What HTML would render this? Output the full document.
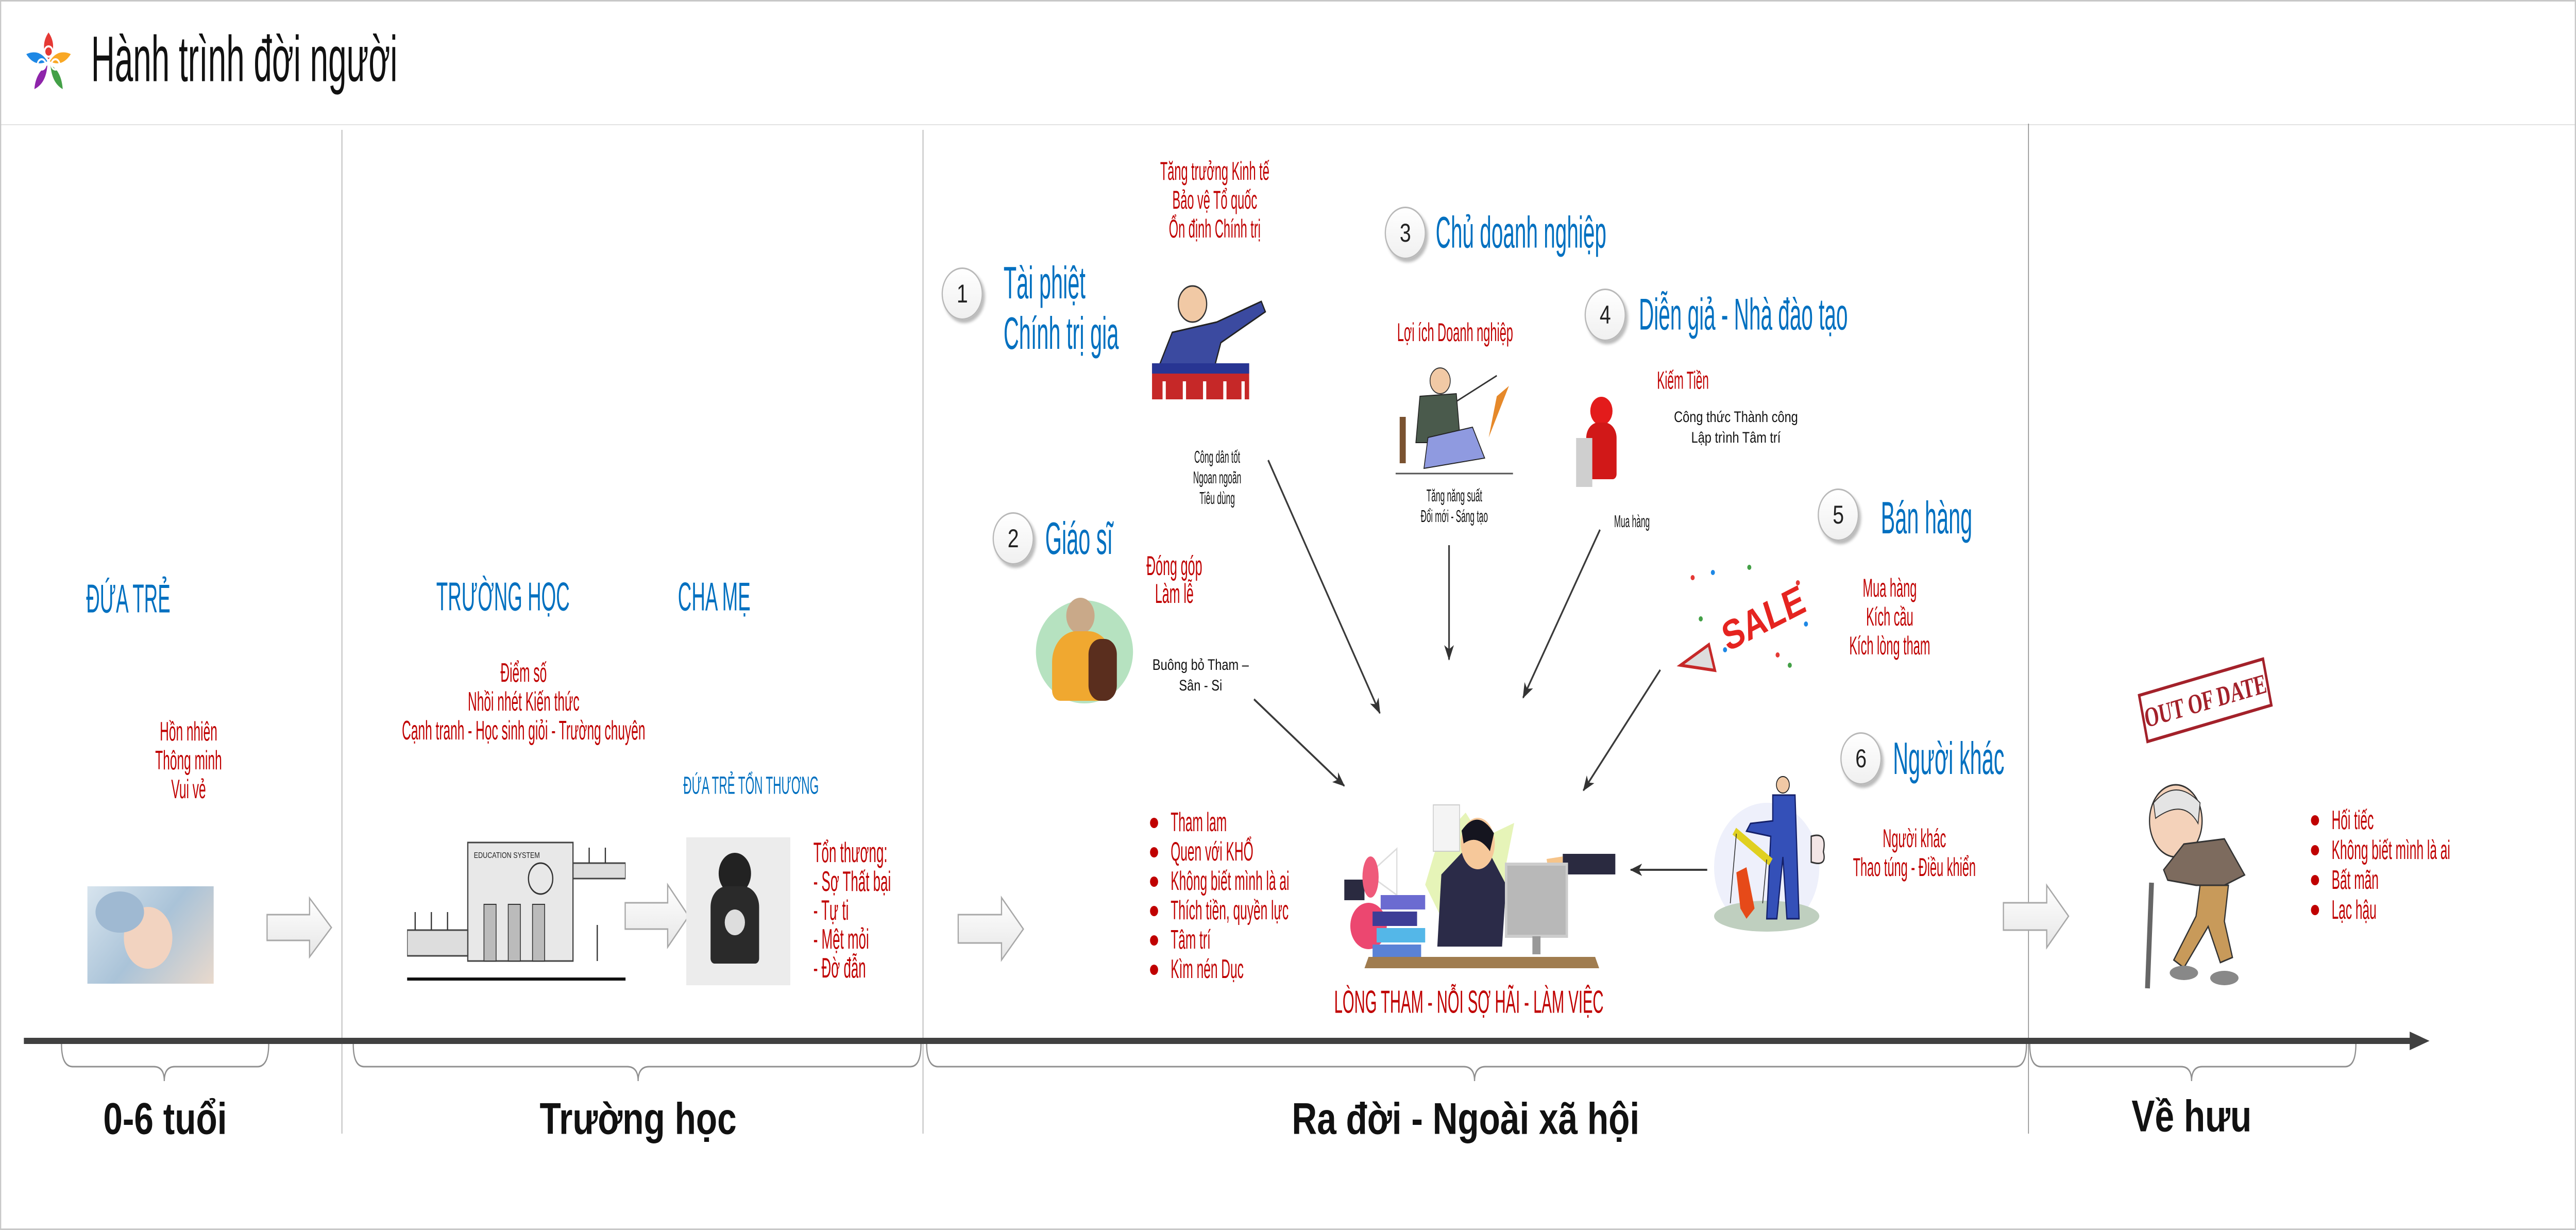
<!DOCTYPE html>
<html><head><meta charset="utf-8">
<style>
html,body{margin:0;padding:0;background:#fff;width:100%;height:100%;overflow:hidden}
#p{position:absolute;left:0;top:0;width:6366px;height:2387px;overflow:hidden;background:#fff;transform-origin:0 0}
#frame{position:absolute;left:0;top:0;width:6366px;height:2387px;box-sizing:border-box;border:3px solid #c8c8c8}
.t{position:absolute;white-space:nowrap;font-family:"Liberation Sans",sans-serif}
.c{transform:translate(-50%,-50%);text-align:center}
.l{transform:translate(0,-50%);text-align:left}
.c.n{transform:translate(-50%,-50%) scaleX(.6)}
.l.n{transform-origin:0 50%;transform:translate(0,-50%) scaleX(.6)}
.tl.n{transform-origin:0 0;transform:scaleX(.6)}
.red{color:#c00000}
.blue{color:#0070c0}
.blk{color:#111}
.bold{font-family:"Liberation Sans",sans-serif;font-weight:bold;color:#111}
.num{position:absolute;width:96px;height:96px;border-radius:50%;border:3px solid #b8b8b8;background:linear-gradient(#fff,#f0f0f0);box-shadow:5px 6px 6px #bbb;transform:translate(-50%,-50%);font:50px "Liberation Sans",sans-serif;color:#222;text-align:center;line-height:96px}
ul.b{position:absolute;margin:0;padding:0;list-style:none;font-family:"Liberation Sans",sans-serif;color:#c00000}
ul.b li{position:relative;padding-left:51px;white-space:nowrap}
ul.b li span{display:inline-block;transform-origin:0 50%;transform:scaleX(.6)}
ul.b li:before{content:"";position:absolute;left:0;top:50%;width:20px;height:20px;margin-top:-10px;border-radius:50%;background:#c00000}
</style></head><body>
<div id="p">
<div style="position:absolute;left:0;top:0;width:6366px;height:243px;box-sizing:border-box;border-bottom:2px solid #e2e2e2"></div>
<svg style="position:absolute;left:55px;top:55px" width="130" height="130" viewBox="0 0 130 130">
<path d="M65 8 C80 25 80 45 65 60 C50 45 50 25 65 8Z" fill="#e53935"/>
<path d="M120 50 C105 68 88 72 68 64 C80 48 98 42 120 50Z" fill="#f9a825"/>
<path d="M100 118 C82 110 72 94 70 72 C88 78 98 96 100 118Z" fill="#43a047"/>
<path d="M30 118 C32 96 44 80 62 72 C60 94 50 110 30 118Z" fill="#8e24aa"/>
<path d="M10 50 C32 42 50 48 62 64 C42 72 24 68 10 50Z" fill="#1e88e5"/>
<circle cx="48" cy="70" r="10" fill="none" stroke="#fff" stroke-width="4"/><circle cx="82" cy="70" r="10" fill="none" stroke="#fff" stroke-width="4"/><circle cx="65" cy="45" r="10" fill="none" stroke="#fff" stroke-width="4"/>
</svg>
<div class="t l blk" style="left:225px;top:115px;font-size:125px;transform-origin:0 50%;transform:translate(0,-50%) scaleX(.65)">Hành trình đời người</div>

<svg style="position:absolute;left:0;top:0" width="6366" height="2387">
<defs>
<marker id="ah" markerWidth="30" markerHeight="30" refX="28" refY="15" orient="auto" markerUnits="userSpaceOnUse" viewBox="0 0 30 30"><path d="M0 3 L30 15 L0 27 L8 15Z" fill="#333"/></marker>
<linearGradient id="g" x1="0" y1="0" x2="0" y2="1"><stop offset="0" stop-color="#fff"/><stop offset="1" stop-color="#e6e6e6"/></linearGradient>
</defs>
<line x1="845" y1="252" x2="845" y2="2200" stroke="#b0b0b0" stroke-width="2"/>
<line x1="2281" y1="252" x2="2281" y2="2200" stroke="#b0b0b0" stroke-width="2"/>
<line x1="5013" y1="240" x2="5013" y2="2200" stroke="#8a8a8a" stroke-width="2"/>
<line x1="59" y1="2020" x2="5960" y2="2020" stroke="#404040" stroke-width="12"/>
<path d="M5955 2002 L6004 2020 L5955 2038 Z" fill="#404040"/>
<g fill="none" stroke="#909090" stroke-width="3">
<path d="M152 2026 Q152 2070 180 2070 L380 2070 Q406 2070 406 2098 Q406 2070 432 2070 L636 2070 Q664 2070 664 2026"/>
<path d="M873 2026 Q873 2070 900 2070 L1550 2070 Q1577 2070 1577 2098 Q1577 2070 1604 2070 L2250 2070 Q2276 2070 2276 2026"/>
<path d="M2290 2026 Q2290 2070 2318 2070 L3617 2070 Q3644 2070 3644 2098 Q3644 2070 3671 2070 L4980 2070 Q5008 2070 5008 2026"/>
<path d="M5016 2026 Q5016 2070 5044 2070 L5390 2070 Q5416 2070 5416 2098 Q5416 2070 5442 2070 L5795 2070 Q5822 2070 5822 2026"/>
</g>
<g fill="url(#g)" stroke="#a8a8a8" stroke-width="3">
<path d="M660 1775 L765 1775 L765 1743 L819 1800 L765 1857 L765 1825 L660 1825 Z"/>
<path d="M1545 1752 L1650 1752 L1650 1717 L1702 1778 L1650 1838 L1650 1803 L1545 1803 Z"/>
<path d="M2368 1775 L2475 1775 L2475 1742 L2529 1803 L2475 1863 L2475 1830 L2368 1830 Z"/>
<path d="M4951 1752 L5058 1752 L5058 1718 L5112 1778 L5058 1839 L5058 1805 L4951 1805 Z"/>
</g>
<g stroke="#3a3a3a" stroke-width="4" marker-end="url(#ah)" fill="none">
<line x1="3134" y1="893" x2="3410" y2="1384"/>
<line x1="3099" y1="1357" x2="3322" y2="1525"/>
<line x1="3581" y1="1058" x2="3581" y2="1280"/>
<line x1="3954" y1="1028" x2="3764" y2="1354"/>
<line x1="4103" y1="1300" x2="3913" y2="1534"/>
<line x1="4219" y1="1688" x2="4030" y2="1688"/>
</g>
</svg>

<div class="t c n blue" style="left:317px;top:1162px;font-size:78px">ĐỨA TRẺ</div>
<div class="t c n red" style="left:466px;top:1476px;font-size:52px;line-height:56px">Hồn nhiên<br>Thông minh<br>Vui vẻ</div>
<div style="position:absolute;left:216px;top:1720px;width:312px;height:189px;background:linear-gradient(135deg,#d7e4ee,#aac3d8 50%,#e9d9cc)">
<div style="position:absolute;left:90px;top:40px;width:120px;height:120px;border-radius:50%;background:#f2d3c0"></div>
<div style="position:absolute;left:20px;top:10px;width:120px;height:80px;border-radius:50%;background:#9fb9d2"></div></div>

<div class="t c n blue" style="left:1243px;top:1158px;font-size:78px">TRƯỜNG HỌC</div>
<div class="t c n blue" style="left:1765px;top:1158px;font-size:78px">CHA MẸ</div>
<div class="t c n red" style="left:1294px;top:1362px;font-size:52px;line-height:56px">Điểm số<br>Nhồi nhét Kiến thức<br>Cạnh tranh - Học sinh giỏi - Trường chuyên</div>
<svg style="position:absolute;left:1006px;top:1595px" width="540" height="312" viewBox="0 0 540 312">
<rect x="150" y="40" width="260" height="230" fill="#e8e8e8" stroke="#444" stroke-width="3"/>
<rect x="0" y="210" width="150" height="50" fill="#ddd" stroke="#444" stroke-width="3"/>
<rect x="410" y="80" width="130" height="30" fill="#ddd" stroke="#444" stroke-width="3"/>
<text x="165" y="70" font-family="Liberation Sans" font-size="16" fill="#222">EDUCATION SYSTEM</text>
<rect x="190" y="160" width="30" height="110" fill="#bbb" stroke="#333" stroke-width="2"/><rect x="250" y="160" width="30" height="110" fill="#bbb" stroke="#333" stroke-width="2"/><rect x="310" y="160" width="30" height="110" fill="#bbb" stroke="#333" stroke-width="2"/>
<circle cx="330" cy="110" r="30" fill="none" stroke="#333" stroke-width="3"/>
<line x1="0" y1="305" x2="540" y2="305" stroke="#111" stroke-width="6"/>
<g stroke="#333" stroke-width="3"><line x1="20" y1="175" x2="20" y2="210"/><line x1="60" y1="175" x2="60" y2="210"/><line x1="100" y1="175" x2="100" y2="210"/><line x1="450" y1="50" x2="450" y2="80"/><line x1="490" y1="50" x2="490" y2="80"/><line x1="470" y1="200" x2="470" y2="270"/></g>
</svg>
<div class="t c n blue" style="left:1856px;top:1525px;font-size:48px">ĐỨA TRẺ TỔN THƯƠNG</div>
<div style="position:absolute;left:1696px;top:1625px;width:257px;height:287px;background:#ececec">
<div style="position:absolute;left:80px;top:30px;width:80px;height:80px;border-radius:50%;background:#222"></div>
<div style="position:absolute;left:60px;top:95px;width:120px;height:150px;border-radius:40px 40px 10px 10px;background:#2a2a2a"></div>
<div style="position:absolute;left:95px;top:140px;width:50px;height:50px;border-radius:50%;background:#ddd"></div></div>
<div class="t tl n red" style="left:2010px;top:1626px;font-size:55px;line-height:56px">Tổn thương:<br>- Sợ Thất bại<br>- Tự ti<br>- Mệt mỏi<br>- Đờ đẫn</div>

<div class="num" style="left:2378px;top:570px">1</div>
<div class="t tl n blue" style="left:2480px;top:500px;font-size:88px;line-height:98px">Tài phiệt<br>Chính trị gia</div>
<div class="t c n red" style="left:3002px;top:388px;font-size:50px;line-height:56px">Tăng trưởng Kinh tế<br>Bảo vệ Tổ quốc<br>Ổn định Chính trị</div>
<svg style="position:absolute;left:2837px;top:545px" width="300" height="230" viewBox="0 0 300 230">
<circle cx="110" cy="45" r="35" fill="#f1c9a5" stroke="#333" stroke-width="3"/>
<path d="M60 100 L170 80 L280 40 L290 60 L180 120 L160 180 L20 180 Z" fill="#3b4aa0" stroke="#222" stroke-width="3"/>
<rect x="10" y="160" width="240" height="70" fill="#c62828"/>
<rect x="10" y="160" width="240" height="20" fill="#283593"/>
<g stroke="#fff" stroke-width="8"><line x1="40" y1="195" x2="40" y2="230"/><line x1="90" y1="195" x2="90" y2="230"/><line x1="140" y1="195" x2="140" y2="230"/><line x1="190" y1="195" x2="190" y2="230"/><line x1="235" y1="195" x2="235" y2="230"/></g>
</svg>
<div class="t c n blk" style="left:3008px;top:927px;font-size:33px;line-height:40px">Công dân tốt<br>Ngoan ngoãn<br>Tiêu dùng</div>

<div class="num" style="left:2504px;top:1045px">2</div>
<div class="t l n blue" style="left:2583px;top:1045px;font-size:88px">Giáo sĩ</div>
<div class="t c n red" style="left:2902px;top:1126px;font-size:53px;line-height:54px">Đóng góp<br>Làm lễ</div>
<div style="position:absolute;left:2560px;top:1165px;width:240px;height:200px;border-radius:50%;background:#b6e2c0"></div>
<div style="position:absolute;left:2635px;top:1160px;width:70px;height:70px;border-radius:50%;background:#c9a989"></div>
<div style="position:absolute;left:2600px;top:1225px;width:150px;height:135px;border-radius:60px 60px 20px 20px;background:#f0a830"></div>
<div style="position:absolute;left:2690px;top:1240px;width:70px;height:120px;border-radius:30px;background:#5a2e1e"></div>
<div class="t c blk" style="left:2967px;top:1311px;font-size:30px;line-height:40px">Buông bỏ Tham –<br>Sân - Si</div>

<div class="num" style="left:3473px;top:452px">3</div>
<div class="t l n blue" style="left:3548px;top:452px;font-size:86px">Chủ doanh nghiệp</div>
<div class="t c n red" style="left:3596px;top:645px;font-size:50px">Lợi ích Doanh nghiệp</div>
<svg style="position:absolute;left:3439px;top:709px" width="310" height="220" viewBox="0 0 310 220">
<circle cx="120" cy="30" r="25" fill="#f1c9a5" stroke="#333" stroke-width="2"/>
<path d="M70 60 L160 55 L170 150 L60 150 Z" fill="#4a5a4c" stroke="#222" stroke-width="2"/>
<path d="M90 140 L200 120 L230 180 L80 200 Z" fill="#8f9ae0" stroke="#222" stroke-width="2"/>
<line x1="160" y1="70" x2="260" y2="20" stroke="#333" stroke-width="3"/>
<path d="M260 60 L290 40 L240 140 Z" fill="#e6892a"/>
<line x1="10" y1="210" x2="300" y2="210" stroke="#555" stroke-width="3"/>
<rect x="20" y="100" width="15" height="90" fill="#7a5230"/>
</svg>
<div class="t c n blk" style="left:3594px;top:982px;font-size:33px;line-height:40px">Tăng năng suất<br>Đổi mới - Sáng tạo</div>

<div class="num" style="left:3967px;top:611px">4</div>
<div class="t l n blue" style="left:4050px;top:611px;font-size:86px">Diễn giả - Nhà đào tạo</div>
<div class="t l n red" style="left:4095px;top:739px;font-size:48px">Kiếm Tiền</div>
<div style="position:absolute;left:3930px;top:770px;width:55px;height:55px;border-radius:50%;background:#e31b1b"></div>
<div style="position:absolute;left:3920px;top:820px;width:75px;height:110px;border-radius:30px 30px 10px 10px;background:#d11818"></div>
<div style="position:absolute;left:3895px;top:850px;width:40px;height:95px;background:#cfcfcf"></div>
<div class="t c blk" style="left:4290px;top:830px;font-size:30px;line-height:40px">Công thức Thành công<br>Lập trình Tâm trí</div>
<div class="t c n blk" style="left:4033px;top:1012px;font-size:33px">Mua hàng</div>

<div class="num" style="left:4543px;top:999px">5</div>
<div class="t l n blue" style="left:4648px;top:1005px;font-size:88px">Bán hàng</div>
<div class="t c n red" style="left:4670px;top:1197px;font-size:50px;line-height:56px">Mua hàng<br>Kích cầu<br>Kích lòng tham</div>
<svg style="position:absolute;left:4143px;top:1091px" width="340" height="235" viewBox="0 0 340 235">
<g fill="#e53935"><circle cx="40" cy="30" r="5"/><circle cx="300" cy="40" r="5"/><circle cx="250" cy="180" r="5"/></g>
<g fill="#1e88e5"><circle cx="90" cy="20" r="5"/><circle cx="320" cy="120" r="5"/><circle cx="120" cy="170" r="5"/></g>
<g fill="#43a047"><circle cx="180" cy="10" r="5"/><circle cx="60" cy="110" r="5"/><circle cx="280" cy="200" r="5"/></g>
<text x="110" y="150" font-family="Liberation Sans" font-weight="bold" font-size="80" fill="#e52420" transform="rotate(-22 180 120)">SALE</text>
<path d="M10 200 L80 160 L95 210 Z" fill="#ddd" stroke="#c62828" stroke-width="6"/>
</svg>

<div class="num" style="left:4599px;top:1472px">6</div>
<div class="t l n blue" style="left:4678px;top:1472px;font-size:88px">Người khác</div>
<div class="t c n red" style="left:4731px;top:1655px;font-size:50px;line-height:56px">Người khác<br>Thao túng - Điều khiển</div>
<svg style="position:absolute;left:4216px;top:1503px" width="310" height="310" viewBox="0 0 310 310">
<ellipse cx="150" cy="180" rx="130" ry="125" fill="#eef0fb"/>
<ellipse cx="150" cy="275" rx="130" ry="30" fill="#bfcfbf"/>
<circle cx="190" cy="20" r="16" fill="#f1c9a5" stroke="#222" stroke-width="2"/>
<path d="M165 40 L220 40 L230 280 L200 280 L190 160 L175 280 L150 280 L160 120 L100 110 L110 95 L165 90 Z" fill="#3450b8" stroke="#14206a" stroke-width="3"/>
<path d="M70 110 L160 170" stroke="#e0d020" stroke-width="16"/>
<path d="M75 190 L100 180 L120 260 L100 280 L85 260 Z" fill="#e64a19"/>
<g stroke="#333" stroke-width="2"><line x1="75" y1="115" x2="60" y2="250"/><line x1="150" y1="165" x2="140" y2="250"/></g>
<path d="M260 120 Q300 110 290 150 Q300 180 260 170 Z" fill="#f3e6e6" stroke="#333" stroke-width="3"/>
</svg>

<svg style="position:absolute;left:3322px;top:1557px" width="670" height="322" viewBox="0 0 670 322">
<polygon points="230,80 300,20 340,70 420,40 400,120 470,150 420,200 250,240 200,160" fill="#e6f4b8"/>
<rect x="0" y="150" width="50" height="40" fill="#2a2a40"/>
<path d="M60 140 L130 90 L130 180 Z" fill="#fff" stroke="#ddd" stroke-width="3"/>
<ellipse cx="65" cy="145" rx="20" ry="40" fill="#ef5a7a"/>
<rect x="540" y="100" width="130" height="40" fill="#2a2a40"/>
<path d="M500 110 L540 105 L540 140 L505 135 Z" fill="#f6c48a"/>
<rect x="220" y="5" width="65" height="90" fill="#f4f4f4" stroke="#ccc" stroke-width="2"/>
<path d="M240 140 L300 90 L360 100 L400 160 L390 280 L230 280 Z" fill="#2b2b48"/>
<ellipse cx="330" cy="80" rx="42" ry="50" fill="#f6c89a"/>
<path d="M290 55 Q330 10 370 60 L360 95 Q330 60 295 80Z" fill="#15151f"/>
<rect x="400" y="120" width="150" height="140" fill="#b8b8b8" stroke="#ccc" stroke-width="6"/>
<rect x="465" y="260" width="20" height="35" fill="#999"/>
<circle cx="60" cy="240" r="45" fill="#ec4770"/>
<rect x="90" y="180" width="110" height="28" fill="#6b6bd1"/><rect x="70" y="212" width="110" height="28" fill="#3d3d96"/><rect x="80" y="244" width="120" height="28" fill="#54b7e8"/><rect x="70" y="276" width="120" height="30" fill="#5a82d6"/>
<polygon points="60,300 620,300 630,322 50,322" fill="#a07c4f"/>
</svg>
<div class="t c n red" style="left:3630px;top:1945px;font-size:62px">LÒNG THAM - NỖI SỢ HÃI - LÀM VIỆC</div>
<ul class="b" style="left:2842px;top:1568px;font-size:52px;line-height:57px">
<li><span>Tham lam</span></li><li><span>Quen với KHỔ</span></li><li><span>Không biết mình là ai</span></li><li><span>Thích tiền, quyền lực</span></li><li><span>Tâm trí</span></li><li><span>Kìm nén Dục</span></li></ul>

<div style="position:absolute;left:5290px;top:1310px;width:320px;height:100px;transform:rotate(-13deg)">
<div style="position:absolute;left:0;top:0;width:308px;height:86px;border:6px solid #a3212a;"></div>
<div class="t c" style="left:160px;top:50px;font-family:'Liberation Serif',serif;font-weight:bold;font-size:54px;color:#a3212a;transform:translate(-50%,-50%) scaleX(.85)">OUT OF DATE</div></div>
<svg style="position:absolute;left:5297px;top:1518px" width="280" height="410" viewBox="0 0 280 410">
<ellipse cx="80" cy="75" rx="65" ry="70" fill="#f4d2ba" stroke="#333" stroke-width="3"/>
<path d="M25 40 Q80 -10 140 40 L135 80 Q100 30 30 70Z" fill="#e4e4e4" stroke="#333" stroke-width="2"/>
<path d="M100 120 L200 110 L250 180 L200 200 L130 200 L60 190 L50 170 Z" fill="#7d6b5e" stroke="#333" stroke-width="3"/>
<path d="M140 200 L210 200 L200 270 L220 340 L190 350 L160 280 L100 360 L75 345 L130 260 Z" fill="#c89a5a" stroke="#333" stroke-width="3"/>
<path d="M20 195 L10 400" stroke="#666" stroke-width="12"/>
<ellipse cx="100" cy="370" rx="35" ry="14" fill="#888"/><ellipse cx="200" cy="380" rx="35" ry="14" fill="#888"/>
</svg>
<ul class="b" style="left:5711px;top:1563px;font-size:52px;line-height:58px">
<li><span>Hối tiếc</span></li><li><span>Không biết mình là ai</span></li><li><span>Bất mãn</span></li><li><span>Lạc hậu</span></li></ul>

<div class="t c bold" style="left:408px;top:2172px;font-size:86px">0-6 tuổi</div>
<div class="t c bold" style="left:1577px;top:2172px;font-size:86px">Trường học</div>
<div class="t c bold" style="left:3622px;top:2172px;font-size:86px">Ra đời - Ngoài xã hội</div>
<div class="t c bold" style="left:5416px;top:2167px;font-size:86px">Về hưu</div>
<div id="frame"></div>
</div>
<script>
(function(){var p=document.getElementById('p');function f(){var w=window.innerWidth||6366,h=window.innerHeight||2387;p.style.transform='scale('+(w/6366)+','+(h/2387)+')';}f();window.addEventListener('resize',f);})();
</script>
</body></html>
